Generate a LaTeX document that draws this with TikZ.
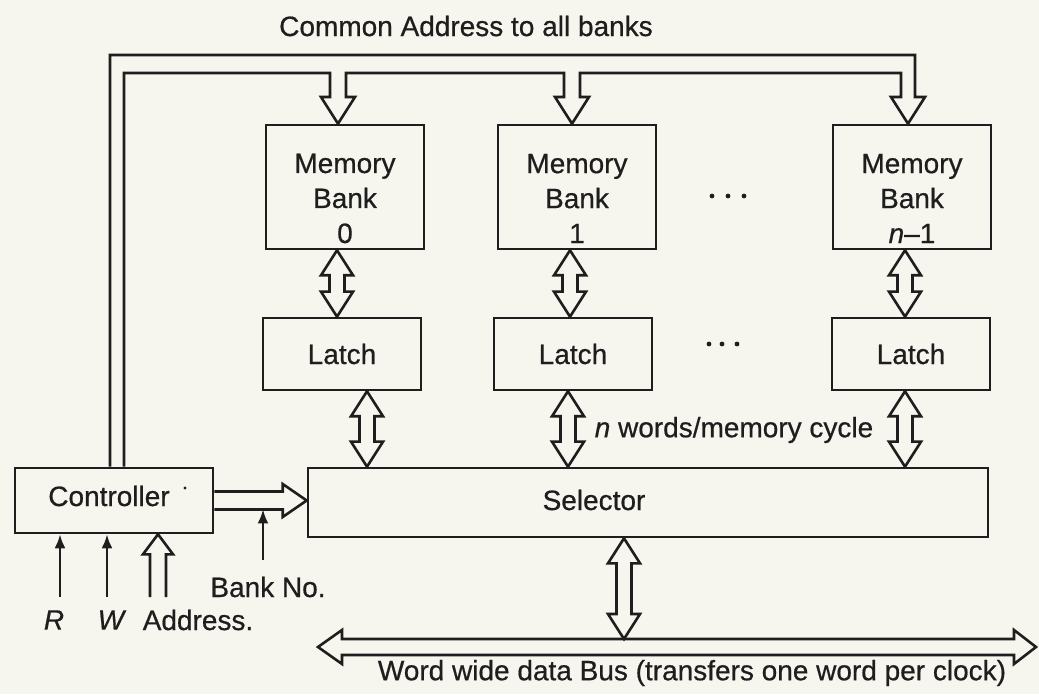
\documentclass[tikz,border=0pt]{standalone}
\usepackage{fontspec}
\setmainfont{Liberation Sans}[FakeBold=0.6]
\usetikzlibrary{calc,arrows.meta}
\definecolor{paper}{HTML}{F6F5EE}
\definecolor{ink}{HTML}{1E1E1E}

% hollow two-headed vertical bus arrow from #1 (top tip) down to the level of #2
\newcommand\vbus[2]{%
  \draw[wire] let \p1=(#1), \p2=(#2) in
    (\p1) -- ({\x1+16pt},{\y1-25pt}) -- ({\x1+7.5pt},{\y1-25pt})
    -- ({\x1+7.5pt},{\y2+25pt}) -- ({\x1+16pt},{\y2+25pt}) -- (\x1,\y2)
    -- ({\x1-16pt},{\y2+25pt}) -- ({\x1-7.5pt},{\y2+25pt})
    -- ({\x1-7.5pt},{\y1-25pt}) -- ({\x1-16pt},{\y1-25pt}) -- cycle;}

\begin{document}
\begin{tikzpicture}[x=1pt,y=1pt,
  wire/.style={draw=ink,line width=2.6pt,line join=miter},
  box/.style={draw=ink,line width=2.6pt,text=ink,font=\fontsize{28}{35}\selectfont},
  lbl/.style={text=ink,inner sep=0pt,font=\fontsize{28}{35}\selectfont},
  sig/.style={draw=ink,line width=2.6pt,-{Latex[length=14pt,width=11pt]}},
  dot/.style={fill=ink}]
\useasboundingbox (0,0) rectangle (1039,694);
\fill[paper] (0,0) rectangle (1039,694);

% memory banks
\node[box,minimum width=158pt,minimum height=124pt] (b0) at (345,507) {};
\node[box,minimum width=158pt,minimum height=124pt] (b1) at (577,507) {};
\node[box,minimum width=158pt,minimum height=124pt] (bn) at (912,507) {};
\node[lbl,align=center] (b0t) at (345,495.5) {Memory\\Bank\\0};
\node[lbl,align=center] (b1t) at (577,495.5) {Memory\\Bank\\1};
\node[lbl,align=center] (bnt) at (912,495.5) {Memory\\Bank\\\textit{n}\textendash 1};

% latches
\node[box,minimum width=158pt,minimum height=72pt] (l0) at (342,340) {Latch};
\node[box,minimum width=158pt,minimum height=72pt] (l1) at (573,340) {Latch};
\node[box,minimum width=158pt,minimum height=72pt] (ln) at (911,340) {Latch};

% ellipsis dots between the columns
\fill[dot] (712,498) circle (2.4) (728,498) circle (2.4) (744,498) circle (2.4);
\fill[dot] (709,350) circle (2.4) (722,350) circle (2.4) (737,350) circle (2.4);

% selector and controller
\node[box,minimum width=680pt,minimum height=69pt] (sel) at (648,191.5) {};
\node[lbl] (selt) at (594,194) {Selector};
\node[box,minimum width=198pt,minimum height=65pt] (ctrl) at (114,193.5) {};
\node[lbl] (ctrlt) at (109,198) {Controller};
\fill[dot] (185,206) circle (1.6);

% common address bus from the controller to every bank
\coordinate (a0) at ($(b0.north)+(-7,0)$);
\coordinate (a1) at ($(b1.north)+(-5,0)$);
\coordinate (a2) at ($(bn.north)+(-4,0)$);
\coordinate (busL) at ($(ctrl.north)+(-4,0)$);
\coordinate (busR) at ($(ctrl.north)+(10,0)$);
\draw[wire] let \p1=(a0), \p2=(a1), \p3=(a2), \p4=(busL), \p5=(busR) in
  (\p4) -- (\x4,639pt) -- ({\x3+7pt},639pt) -- ({\x3+7pt},597pt)
  -- ({\x3+17pt},597pt) -- (\p3) -- ({\x3-17pt},597pt) -- ({\x3-7pt},597pt)
  -- ({\x3-7pt},621pt) -- ({\x2+8pt},621pt) -- ({\x2+8pt},597pt)
  -- ({\x2+17pt},597pt) -- (\p2) -- ({\x2-17pt},597pt) -- ({\x2-8pt},597pt)
  -- ({\x2-8pt},621pt) -- ({\x1+8pt},621pt) -- ({\x1+8pt},597pt)
  -- ({\x1+17pt},597pt) -- (\p1) -- ({\x1-17pt},597pt) -- ({\x1-8pt},597pt)
  -- ({\x1-8pt},621pt) -- (\x5,621pt) -- (\p5);
\node[lbl] (common) at (466,668) {Common Address to all banks};

% bank <-> latch
\vbus{$(b0.south)+(-8,0)$}{l0.north}
\vbus{$(b1.south)+(-7,0)$}{l1.north}
\vbus{$(bn.south)+(-7,0)$}{ln.north}
% latch <-> selector
\vbus{$(l0.south)+(25,0)$}{sel.north}
\vbus{$(l1.south)+(-5,0)$}{sel.north}
\vbus{$(ln.south)+(-6,0)$}{sel.north}
\node[lbl] (nwords) at (734,264) {\textit{n} words/memory cycle};

% word wide data bus
\coordinate (busw) at (318,47);
\coordinate (buse) at (1036,47);
\draw[wire] let \p1=(busw), \p2=(buse) in
  (\p1) -- ({\x1+24pt},{\y1+17pt}) -- ({\x1+24pt},{\y1+8pt})
  -- ({\x2-22pt},{\y1+8pt}) -- ({\x2-22pt},{\y1+17pt}) -- (\x2,\y1)
  -- ({\x2-22pt},{\y1-17pt}) -- ({\x2-22pt},{\y1-8pt})
  -- ({\x1+24pt},{\y1-8pt}) -- ({\x1+24pt},{\y1-17pt}) -- cycle;
\vbus{$(sel.south)+(-24,0)$}{$(busw)+(0,8)$}
\node[lbl] (wordbus) at (692,21) {Word wide data Bus (transfers one word per clock)};

% controller -> selector
\draw[wire] let \p1=(ctrl.east), \p2=(sel.west) in
  (\x1,{\y1+9pt}) -- ({\x2-24pt},{\y1+9pt}) -- ({\x2-24pt},{\y1+16.5pt})
  -- (\x2,\y1) -- ({\x2-24pt},{\y1-16.5pt}) -- ({\x2-24pt},{\y1-9pt})
  -- (\x1,{\y1-9pt});
\coordinate (clow) at ($(ctrl.east)+(0,-9)$);
\coordinate (bnfoot) at (263,134);
\draw[sig,line width=2pt] (bnfoot) -- (bnfoot |- clow);
\node[lbl] (bankno) at (268,107) {Bank No.};

% controller inputs
\coordinate (rfoot) at (60,97);
\coordinate (wfoot) at (107,97);
\coordinate (addrfoot) at (158,97);
\draw[sig] (rfoot) -- (rfoot |- ctrl.south);
\draw[sig] (wfoot) -- (wfoot |- ctrl.south);
\draw[wire] let \p1=(addrfoot), \p2=(ctrl.south) in
  ({\x1-8pt},\y1) -- ({\x1-8pt},{\y2-20pt}) -- ({\x1-15pt},{\y2-20pt})
  -- (\x1,\y2) -- ({\x1+15pt},{\y2-20pt}) -- ({\x1+8pt},{\y2-20pt})
  -- ({\x1+8pt},\y1);
\node[lbl] (rlbl) at (54,74) {\textit{R}};
\node[lbl] (wlbl) at (112,74) {\textit{W}};
\node[lbl] (addrlbl) at (198,74) {Address.};
\end{tikzpicture}
\end{document}
